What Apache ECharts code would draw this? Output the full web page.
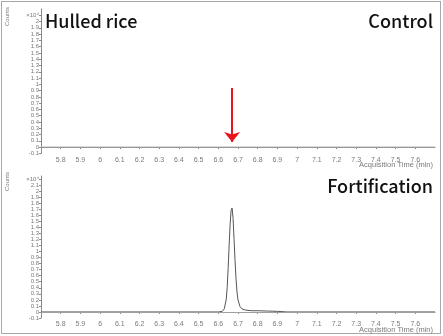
<!DOCTYPE html>
<html>
<head>
<meta charset="utf-8">
<script src="https://cdn.jsdelivr.net/npm/echarts@6/dist/echarts.min.js"></script>
<style>
  html, body { margin: 0; padding: 0; background: #fff; }
  #frame { position: absolute; left: 1px; top: 1px; width: 438px; height: 331px; border: 1px solid #a8a8a8; }
  #chart { position: absolute; left: 0; top: 0; width: 443px; height: 336px; }
</style>
</head>
<body>
<div id="frame"></div>
<div id="chart"></div>
<script>
// retention times (min) and counts (x10^4)
const controlTime = [5.7, 7.7];
const controlCounts = [0, 0];

const fortTime = [5.7, 6.6, 6.62, 6.63, 6.64, 6.645, 6.65, 6.655, 6.66, 6.665, 6.67, 6.675, 6.68, 6.685, 6.69, 6.695, 6.7, 6.71, 6.72, 6.74, 6.77, 6.8, 6.85, 6.9, 6.95, 7.7];
const fortCounts = [0, 0, 0.01, 0.05, 0.2, 0.4, 0.72, 1.1, 1.45, 1.68, 1.72, 1.55, 1.2, 0.85, 0.55, 0.33, 0.2, 0.09, 0.05, 0.03, 0.02, 0.02, 0.015, 0.01, 0, 0];

const panelTitles = ['Hulled rice', 'Control', 'Fortification'];
const xAxisTitle = 'Acquisition Time (min)';
const arrowTime = 6.67;
const arrowFrom = 0.94, arrowTo = 0.08;

const toPairs = (xs, ys) => xs.map((x, i) => [x, ys[i]]);

const chart = echarts.init(document.getElementById('chart'));

function yLabel(exp) {
  return function (v) {
    const r = Math.round(v * 10) / 10;
    if (Math.abs(r - exp) < 1e-6) return '×10\u2074';
    if (r > exp) return '';
    return String(r);
  };
}

const axisGray = '#8a8a8a';
const labelGray = '#7a7a7a';
const smallFont = 'Liberation Sans';

function xAxisFor(gridIndex) {
  return {
    type: 'value', gridIndex, min: 5.7, max: 7.7, interval: 0.1, offset: 2,
    axisLine: { lineStyle: { color: axisGray, width: 1 } },
    axisTick: { length: 2, lineStyle: { color: axisGray } },
    axisLabel: {
      fontSize: 7, fontFamily: smallFont, color: labelGray, margin: 1,
      showMinLabel: false, showMaxLabel: false, hideOverlap: false,
      formatter: v => String(Math.round(v * 10) / 10)
    },
    splitLine: { show: false }
  };
}

function yAxisFor(gridIndex, max, exp) {
  return {
    type: 'value', gridIndex, min: -0.1, max, interval: 0.1,
    axisLine: { show: true, lineStyle: { color: axisGray, width: 1 } },
    axisTick: { show: true, length: 2, lineStyle: { color: axisGray } },
    axisLabel: {
      fontSize: 6, fontFamily: smallFont, color: labelGray, margin: 2,
      showMaxLabel: false, hideOverlap: false, formatter: yLabel(exp)
    },
    splitLine: { show: false }
  };
}

const titleStyle = { fontFamily: 'Noto Sans CJK KR', fontSize: 18, fontWeight: 500, fill: '#111' };
const countsStyle = { text: 'Counts', fontSize: 6, fontFamily: smallFont, fill: labelGray, align: 'left', verticalAlign: 'top' };
const xTitleStyle = { text: xAxisTitle, fontSize: 7.5, fontFamily: smallFont, fill: labelGray };

chart.setOption({
  animation: false,
  grid: [
    { left: 41, right: 8, top: 9, height: 144.4, outerBoundsMode: 'none' },
    { left: 41, right: 8, top: 176, height: 142, outerBoundsMode: 'none' }
  ],
  xAxis: [xAxisFor(0), xAxisFor(1)],
  yAxis: [yAxisFor(0, 2.2, 2.1), yAxisFor(1, 2.25, 2.2)],
  graphic: [
    { type: 'text', left: 45, top: 12, style: Object.assign({ text: panelTitles[0] }, titleStyle) },
    { type: 'text', right: 10, top: 12, style: Object.assign({ text: panelTitles[1] }, titleStyle) },
    { type: 'text', right: 10, top: 177, style: Object.assign({ text: panelTitles[2] }, titleStyle) },
    { type: 'text', x: 4, y: 26, rotation: Math.PI / 2, style: countsStyle },
    { type: 'text', x: 4, y: 191, rotation: Math.PI / 2, style: countsStyle },
    { type: 'text', right: 10, top: 161, style: xTitleStyle },
    { type: 'text', right: 10, top: 326, style: xTitleStyle }
  ],
  series: [
    {
      type: 'line', xAxisIndex: 0, yAxisIndex: 0, data: toPairs(controlTime, controlCounts),
      symbol: 'none', lineStyle: { color: '#a0a0a0', width: 1 },
      markLine: {
        silent: true, animation: false,
        symbol: ['none', 'arrow'], symbolSize: [12, 10],
        lineStyle: { color: '#e8161c', width: 2, type: 'solid' },
        label: { show: false },
        data: [[{ coord: [arrowTime, arrowFrom] }, { coord: [arrowTime, arrowTo] }]]
      }
    },
    {
      type: 'line', xAxisIndex: 1, yAxisIndex: 1, data: toPairs(fortTime, fortCounts),
      symbol: 'none', lineStyle: { color: '#555', width: 1 },
      markLine: {
        silent: true, animation: false, symbol: 'none',
        lineStyle: { color: '#a0a0a0', width: 1, type: 'solid' },
        label: { show: false },
        data: [{ yAxis: 0 }]
      }
    }
  ]
});
</script>
</body>
</html>
